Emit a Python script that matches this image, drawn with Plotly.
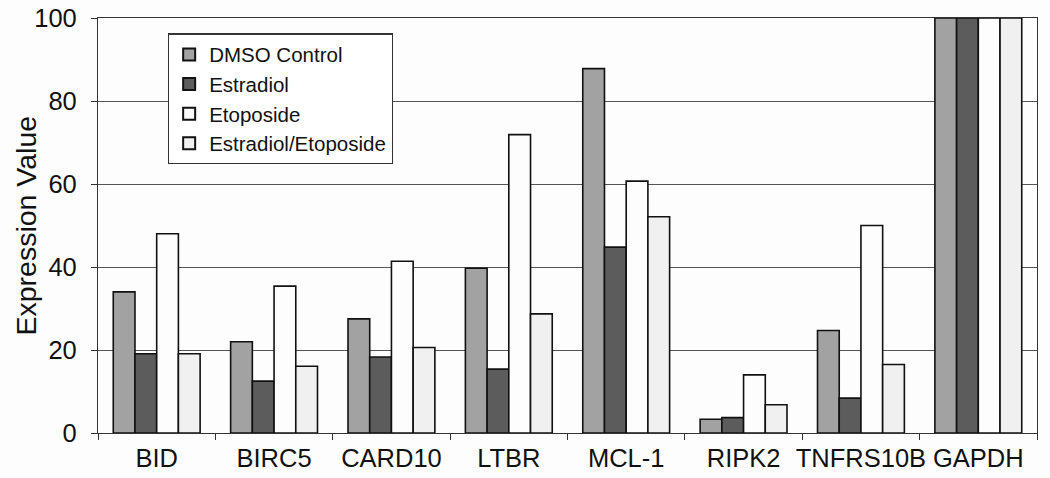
import plotly.graph_objects as go

genes = ["BID", "BIRC5", "CARD10", "LTBR", "MCL-1", "RIPK2", "TNFRS10B", "GAPDH"]
dmso = [34.0, 22.0, 27.5, 39.7, 87.8, 3.3, 24.7, 100]
estradiol = [19.1, 12.5, 18.3, 15.4, 44.8, 3.7, 8.4, 100]
etoposide = [48.0, 35.4, 41.4, 71.9, 60.7, 14.0, 50.0, 100]
estr_etop = [19.1, 16.1, 20.6, 28.7, 52.1, 6.8, 16.5, 100]

series = [
    ("DMSO Control", dmso, "#a2a2a2"),
    ("Estradiol", estradiol, "#5c5c5c"),
    ("Etoposide", etoposide, "#fdfdfd"),
    ("Estradiol/Etoposide", estr_etop, "#f0f0f0"),
]

fig = go.Figure()
for name, vals, col in series:
    fig.add_trace(go.Bar(
        x=genes, y=vals, name=name,
        marker=dict(color=col, line=dict(color="#111111", width=1.6)),
    ))

fig.update_layout(
    width=1050, height=478,
    margin=dict(l=98, r=13, t=18, b=45, autoexpand=False),
    paper_bgcolor="#fdfdfd", plot_bgcolor="#fdfdfd",
    barmode="group", bargap=0.26, bargroupgap=0,
    font=dict(family="Liberation Sans, Arial, sans-serif", color="#111111"),
    showlegend=True,
    legend=dict(
        x=0.0745, y=0.963, xanchor="left", yanchor="top",
        bgcolor="#ffffff", bordercolor="#333333", borderwidth=1.2,
        font=dict(size=20.5), itemsizing="constant",
        tracegroupgap=0,
    ),
    xaxis=dict(
        tickson="boundaries", ticks="outside", ticklen=6, tickcolor="#333333",
        showline=True, linecolor="#333333", linewidth=1.2, mirror=True,
        tickfont=dict(size=25.5), showgrid=False, tickangle=0, automargin=False,
        ticklabelstandoff=2,
    ),
    yaxis=dict(
        range=[0, 100], dtick=20, ticks="outside", ticklen=6, tickcolor="#333333",
        showline=True, linecolor="#333333", linewidth=1.2, mirror=True,
        showgrid=True, gridcolor="#555555", gridwidth=1.2,
        tickfont=dict(size=25.5), zeroline=False, automargin=False,
        ticklabeloverflow="allow", ticklabelstandoff=9,
    ),
    annotations=[dict(
        text="Expression Value", textangle=-90,
        xref="paper", yref="paper", x=-0.0777, y=0.5,
        xanchor="center", yanchor="middle", showarrow=False,
        font=dict(size=28.5, color="#111111"),
    )],
)

fig.write_html(
    "out.html",
    config={"displayModeBar": False},
    post_script="document.body.style.margin='0';document.body.style.overflow='hidden';",
)
